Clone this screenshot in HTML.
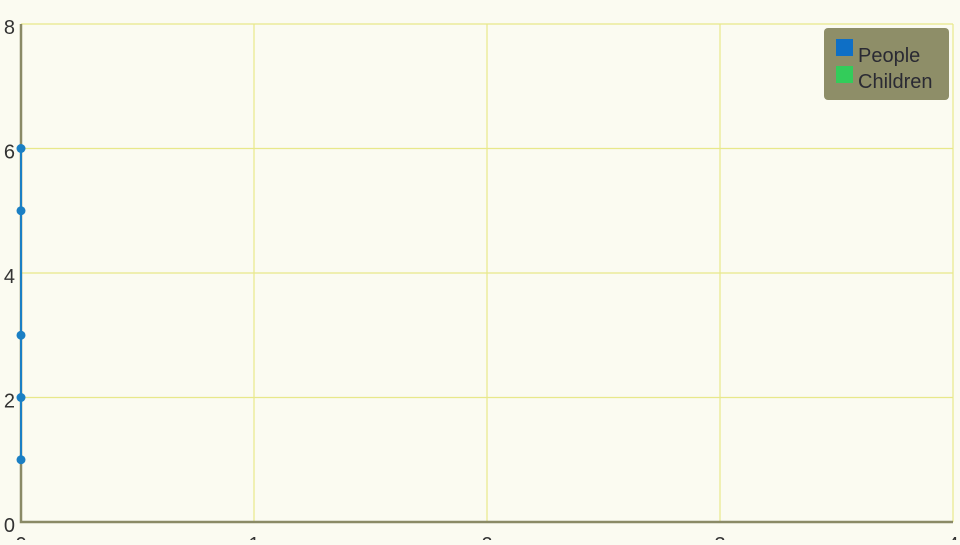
<!DOCTYPE html>
<html><head><meta charset="utf-8"><style>
body{margin:0;width:960px;height:540px;overflow:hidden;background:#fbfbf1;font-family:"Liberation Sans",sans-serif}
</style></head><body>
<svg id="c" width="960" height="540"></svg>
<script>
const xTicks=[0,1,2,3,4];
const yTicks=[0,2,4,6,8];
const peopleX=[0,0,0,0,0];
const peopleY=[1,2,3,5,6];
const seriesNames=["People","Children"];
const ns="http://www.w3.org/2000/svg";
const svg=document.getElementById('c');
const X0=21,X1=953,Y0=522,Y1=24;
const sx=v=>X0+(v-0)/(4-0)*(X1-X0);
const sy=v=>Y0-(v-0)/(8-0)*(Y0-Y1);
function mk(t,a){const e=document.createElementNS(ns,t);for(const k in a)e.setAttribute(k,a[k]);svg.appendChild(e);return e;}
for(const t of xTicks){const l=mk('line',{x1:sx(t),x2:sx(t),y1:Y1,y2:Y0,stroke:'#e8e88a','stroke-width':1.2});


const tx=mk('text',{x:sx(t),y:551,'font-size':20,fill:'#333','text-anchor':'middle'});tx.textContent=t;

}
for(const t of yTicks){const l=mk('line',{x1:X0,x2:X1,y1:sy(t),y2:sy(t),stroke:'#e8e88a','stroke-width':1.2});


const tx=mk('text',{x:15,y:sy(t)+10,'font-size':20,fill:'#333','text-anchor':'end'});tx.textContent=t;

}
const ax=mk('path',{d:`M${X0} ${Y1}V${Y0}H${X1}`,stroke:'#8a8a66','stroke-width':2.5,fill:'none'});


const pl=mk('polyline',{points:peopleX.map((x,i)=>sx(x)+','+sy(peopleY[i])).join(' '),stroke:'#1a7fc4','stroke-width':2,fill:'none'});


peopleX.forEach((x,i)=>{const c=mk('circle',{cx:sx(x),cy:sy(peopleY[i]),r:4.5,fill:'#1a7fc4'});

});
const lg=mk('rect',{x:824,y:28,width:125,height:72,rx:4,fill:'#8e8e68'});


const cols=['#0e6fc6','#33cc5a'];
seriesNames.forEach((n,i)=>{const r=mk('rect',{x:836,y:39+i*27,width:17,height:17,fill:cols[i]});


const t=mk('text',{x:858,y:62+i*26,'font-size':20,fill:'#2a2a33'});t.textContent=n;

});
</script>
</body></html>
